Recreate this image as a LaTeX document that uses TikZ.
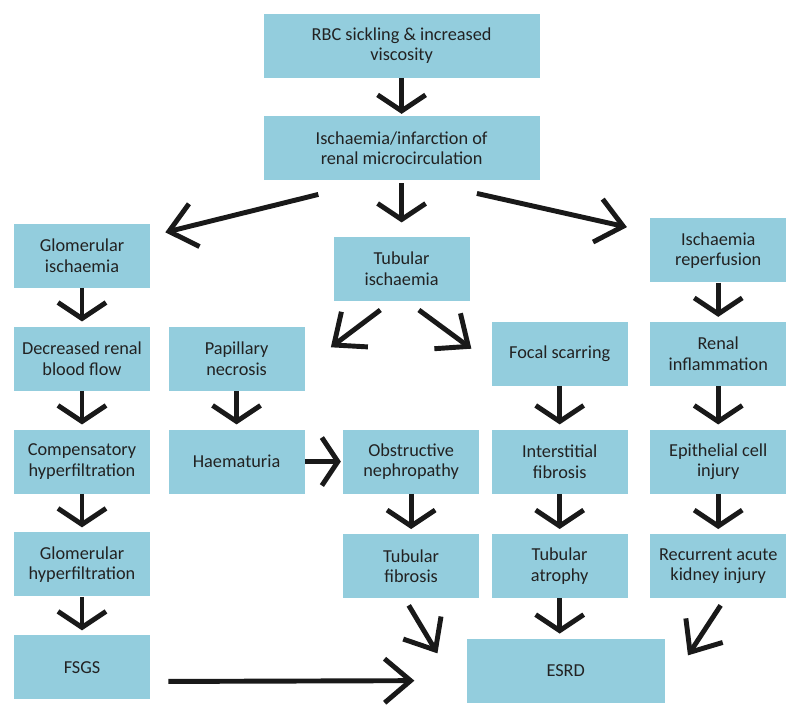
\documentclass[tikz,border=0pt]{standalone}
\usepackage{fontspec}
\setmainfont{Carlito}
\usepackage{tikz}
\usetikzlibrary{arrows.meta,positioning,calc}
\definecolor{celeste}{RGB}{147,205,221}
\definecolor{texto}{RGB}{34,34,34}

\begin{document}
\begin{tikzpicture}[
box/.style={fill=celeste,text=texto,minimum width=3.4cm,minimum height=1.6cm,align=center,inner sep=2pt,font=\fontsize{13}{14.6}\selectfont},
wide/.style={box,minimum width=6.9cm},
arr/.style={-{Straight Barb[length=4mm,width=12mm]},line width=3.5pt,draw=black!90,shorten >=1.2mm},
darr/.style={-{Straight Barb[length=6.5mm,width=11mm]},line width=3.5pt,draw=black!90}
]
\useasboundingbox (0,0) rectangle (20,-17.9);

\node[wide] (rbc) at (10.04,-1.14) {RBC sickling \& increased\\viscosity};
\node[wide,below=9.5mm of rbc] (isch) {Ischaemia/infarction of\\renal microcirculation};
\node[box,below=14mm of isch] (tub) {Tubular\\ischaemia};

\node[box] (glom) at (2.05,-6.39) {Glomerular\\ischaemia};
\node[box,below=9.6mm of glom] (dec) {Decreased renal\\blood flow};
\node[box,right=4.5mm of dec] (pap) {Papillary\\necrosis};
\node[box,below=9.6mm of dec] (comp) {Compensatory\\hyperfiltration};
\node[box,below=9.6mm of pap] (haem) {Haematuria};
\node[box,right=9.5mm of haem] (obs) {Obstructive\\nephropathy};
\node[box,right=3mm of obs] (intf) {Interstitial\\fibrosis};
\node[box,right=5.5mm of intf] (epi) {Epithelial cell\\injury};
\node[box,above=10.75mm of intf] (foc) {Focal scarring};
\node[box,above=10.75mm of epi] (infl) {Renal\\inflammation};
\node[box,above=9.75mm of infl] (rep) {Ischaemia\\reperfusion};
\node[box,below=9.6mm of comp] (ghyp) {Glomerular\\hyperfiltration};
\node[box,below=9.6mm of ghyp] (fsgs) {FSGS};
\node[box,below=10mm of obs] (tfib) {Tubular\\fibrosis};
\node[box,below=10mm of intf] (tatr) {Tubular\\atrophy};
\node[box,below=10mm of epi] (rec) {Recurrent acute\\kidney injury};
\node[box,minimum width=4.95cm,below=10mm of tatr,xshift=1.5mm] (esrd) {ESRD};

\draw[arr,shorten >=0.5mm] (rbc) -- (isch);
\draw[arr,shorten <=0.75mm,shorten >=3.5mm] (isch) -- (tub);
\draw[darr] ($(isch.south west)+(1.375,-0.35)$) -- ($(glom.north east)+(0.375,-0.225)$);
\draw[darr] ($(isch.south east)+(-1.575,-0.325)$) -- ($(rep.north west)+(-0.575,-0.225)$);
\draw[darr] ($(tub.south west)+(1.175,-0.225)$) -- ($(pap.north east)+(0.65,-0.525)$);
\draw[darr] ($(tub.south east)+(-1.275,-0.225)$) -- ($(foc.north west)+(-0.5,-0.675)$);
\foreach \a/\b in {glom/dec,dec/comp,comp/ghyp,ghyp/fsgs,pap/haem,obs/tfib,foc/intf,intf/tatr,rep/infl,infl/epi,epi/rec}
  \draw[arr] (\a) -- (\b);
\draw[arr,shorten >=0.5mm] (haem) -- (obs);
\draw[arr] (tatr.south) -- (tatr.south |- esrd.north);
\draw[darr] ($(tfib.south)+(-0.06,-0.175)$) -- ($(esrd.north west)+(-0.725,-0.375)$);
\draw[darr] ($(rec.south)+(0.06,-0.175)$) -- ($(esrd.north east)+(0.575,-0.425)$);
\draw[darr] ($(fsgs.east)+(0.45,-0.35)$) -- ($(esrd.west)+(-1.3,-0.25)$);
\end{tikzpicture}
\end{document}
